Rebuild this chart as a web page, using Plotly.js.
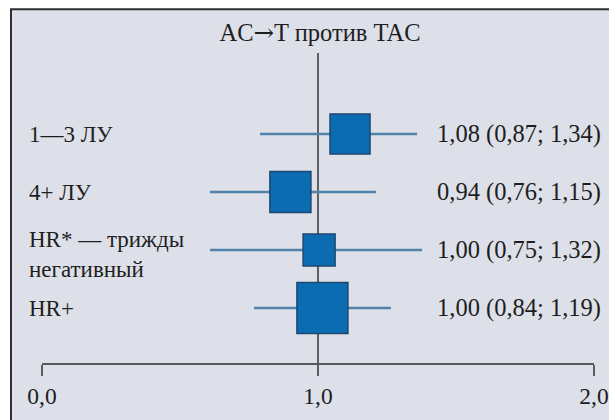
<!DOCTYPE html>
<html>
<head>
<meta charset="utf-8">
<script src="https://cdn.plot.ly/plotly-3.0.1.min.js"></script>
<style>html,body{margin:0;padding:0;background:#fff;}#chart{width:609px;height:420px;}</style>
</head>
<body>
<div id="chart"></div>
<script>
// ---- data ----
const chartTitle = 'AC<span style="font-family:DejaVu Serif">→</span>T против TAC';
const categories = ['1—3 ЛУ', '4+ ЛУ', 'HR* — трижды<br>негативный', 'HR+'];
const rows = [1, 2, 3, 4];
const estimates = [1.116, 0.900, 1.004, 1.016];
const lower = [0.790, 0.609, 0.609, 0.768];
const upper = [1.359, 1.210, 1.377, 1.264];
const resultLabels = ['1,08 (0,87; 1,34)', '0,94 (0,76; 1,15)', '1,00 (0,75; 1,32)', '1,00 (0,84; 1,19)'];
const weights = [40, 41, 32, 51];
const tickValues = [0, 1, 2];
const tickLabels = ['0,0', '1,0', '2,0'];
const refValue = 1;

// ---- styles ----
const FONT = 'Liberation Serif';
const TXT = '#1e1e1e';
const BG = '#dde0e9';

const trace = {
  type: 'scatter',
  mode: 'markers',
  x: estimates,
  y: rows,
  marker: {
    symbol: 'square',
    size: weights,
    opacity: 1,
    color: '#0b6cb2',
    line: {color: '#1d4670', width: 1.5}
  },
  error_x: {
    type: 'data',
    symmetric: false,
    array: upper.map((u, i) => u - estimates[i]),
    arrayminus: lower.map((l, i) => estimates[i] - l),
    width: 0,
    thickness: 2.5,
    color: '#4f83ab'
  },
  hoverinfo: 'skip',
  cliponaxis: false
};

const annotations = [];
categories.forEach((c, i) => {
  annotations.push({
    xref: 'paper', yref: 'y', x: -0.027, y: rows[i],
    xanchor: 'left', yanchor: 'middle', align: 'left',
    yshift: c.indexOf('<br>') >= 0 ? -4 : 0,
    text: c, showarrow: false,
    font: {family: FONT, size: 23, color: TXT}
  });
  annotations.push({
    xref: 'paper', yref: 'y', x: 0.712, y: rows[i],
    xanchor: 'left', yanchor: 'middle',
    text: resultLabels[i], showarrow: false,
    font: {family: FONT, size: 24.5, color: TXT}
  });
});

const layout = {
  width: 609, height: 420,
  margin: {l: 42, r: 15, t: 0, b: 57, pad: 0},
  paper_bgcolor: '#ffffff',
  plot_bgcolor: 'rgba(0,0,0,0)',
  font: {family: FONT, size: 23, color: TXT},
  showlegend: false,
  title: {
    text: chartTitle,
    font: {family: FONT, size: 24.5, color: TXT},
    xref: 'container', yref: 'container',
    x: 0.5255, xanchor: 'center', y: 0.922, yanchor: 'middle'
  },
  xaxis: {
    range: [0, 2],
    showgrid: false, zeroline: false,
    showline: true, linecolor: '#55585e', linewidth: 2,
    ticks: 'outside', ticklen: 11, tickwidth: 2, tickcolor: '#5a5d63',
    tickvals: tickValues, ticktext: tickLabels,
    ticklabelstandoff: 0,
    tickfont: {family: FONT, size: 23.5, color: TXT},
    fixedrange: true
  },
  yaxis: {
    range: [4.948, -1.3103],
    visible: false, showgrid: false, zeroline: false,
    fixedrange: true
  },
  shapes: [
    {type: 'rect', xref: 'paper', yref: 'paper', layer: 'below',
     x0: -0.0562, x1: 1.04, y0: -0.18, y1: 0.9744,
     fillcolor: BG, line: {color: '#2e2e2e', width: 2}},
    {type: 'line', xref: 'x', yref: 'paper', layer: 'below',
     x0: refValue, x1: refValue, y0: 0, y1: 0.854,
     line: {color: '#5c5f66', width: 2}}
  ],
  annotations: annotations
};

Plotly.newPlot('chart', [trace], layout, {displayModeBar: false, staticPlot: true});
</script>
</body>
</html>
